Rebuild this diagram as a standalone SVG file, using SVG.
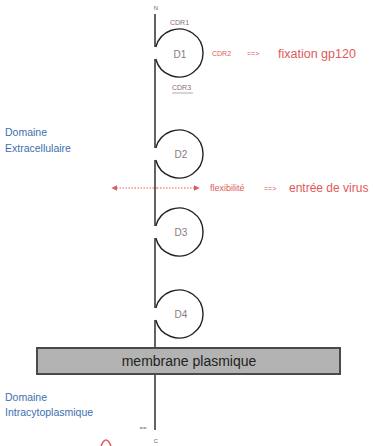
<svg xmlns="http://www.w3.org/2000/svg" width="373" height="446" viewBox="0 0 373 446">
<style>
.ln{fill:none;stroke:#222;stroke-width:1.4}
.dl{font-family:"Liberation Sans",Arial,sans-serif;font-size:10px;fill:#8a7a82;text-anchor:middle}
.cdr{font-family:"Liberation Sans",Arial,sans-serif;font-size:7px;fill:#8a6a78}
.red{font-family:"Liberation Sans",Arial,sans-serif;fill:#e05a5a}
.blue{font-family:"Liberation Sans",Arial,sans-serif;font-size:10.5px;fill:#3d6fb0}
.sm{font-family:"Liberation Sans",Arial,sans-serif;font-size:6px;fill:#666;text-anchor:middle}
</style>
<defs>
<marker id="ah" viewBox="0 0 10 10" refX="9" refY="5" markerWidth="6" markerHeight="6" orient="auto-start-reverse">
<path d="M0,0 L10,5 L0,10 z" fill="#e05a5a"/>
</marker>
</defs>
<rect width="373" height="446" fill="#fff"/>
<g id="connectors">
<path class="ln" d="M155 14 V47 M155 59 V148 M155 160 V226 M155 238 V308 M155 320 V430"/>
<line x1="157" y1="188" x2="112" y2="188" stroke="#e05a5a" stroke-width="1" stroke-dasharray="1.5,1.5" marker-end="url(#ah)"/>
<line x1="157" y1="188" x2="199" y2="188" stroke="#e05a5a" stroke-width="1" stroke-dasharray="1.5,1.5" marker-end="url(#ah)"/>
</g>
<g id="n-label"><text class="sm" x="156" y="10">N</text></g>
<g id="D1">
<path class="ln" d="M155.8 47 A24 24 0 1 1 155.8 59"/>
<text class="dl" x="180" y="58">D1</text>
<text class="cdr" x="170" y="25">CDR1</text>
<text class="cdr" x="172" y="90">CDR3</text>
<line x1="172" y1="93" x2="193" y2="93" stroke="#8a6a78" stroke-width="0.6"/>
</g>
<g id="fixation">
<text class="red" x="212" y="56" font-size="7">CDR2</text>
<text class="red" x="247" y="56" font-size="7">==&gt;</text>
<text class="red" x="278" y="58" font-size="12.5">fixation gp120</text>
</g>
<g id="D2">
<path class="ln" d="M155.8 148 A24 24 0 1 1 155.8 160"/>
<text class="dl" x="181" y="158">D2</text>
</g>
<g id="flex">
<text class="red" x="210" y="191" font-size="9">flexibilité</text>
<text class="red" x="264" y="191" font-size="7">==&gt;</text>
<text class="red" x="289" y="192" font-size="12">entrée de virus</text>
</g>
<g id="D3">
<path class="ln" d="M155.8 226 A24 24 0 1 1 155.8 238"/>
<text class="dl" x="181" y="236">D3</text>
</g>
<g id="D4">
<path class="ln" d="M155.8 308 A24 24 0 1 1 155.8 320"/>
<text class="dl" x="181" y="318">D4</text>
</g>
<g id="membrane">
<rect x="37" y="348" width="303" height="26" fill="#b3b3b3" stroke="#4a4a4a" stroke-width="2"/>
<text x="189" y="366" font-family="Liberation Sans,Arial,sans-serif" font-size="14" fill="#222" text-anchor="middle">membrane plasmique</text>
</g>
<g id="extra">
<text class="blue" x="5" y="136">Domaine</text>
<text class="blue" x="5" y="152">Extracellulaire</text>
</g>
<g id="intra">
<text class="blue" x="5" y="401">Domaine</text>
<text class="blue" x="5" y="416">Intracytoplasmique</text>
</g>
<g id="c-label">
<text class="sm" x="143" y="430">==</text>
<text class="sm" x="156" y="443">C</text>
<path d="M101 446 Q106 434 111 446" fill="none" stroke="#e05a5a" stroke-width="1.5"/>
</g>
</svg>
